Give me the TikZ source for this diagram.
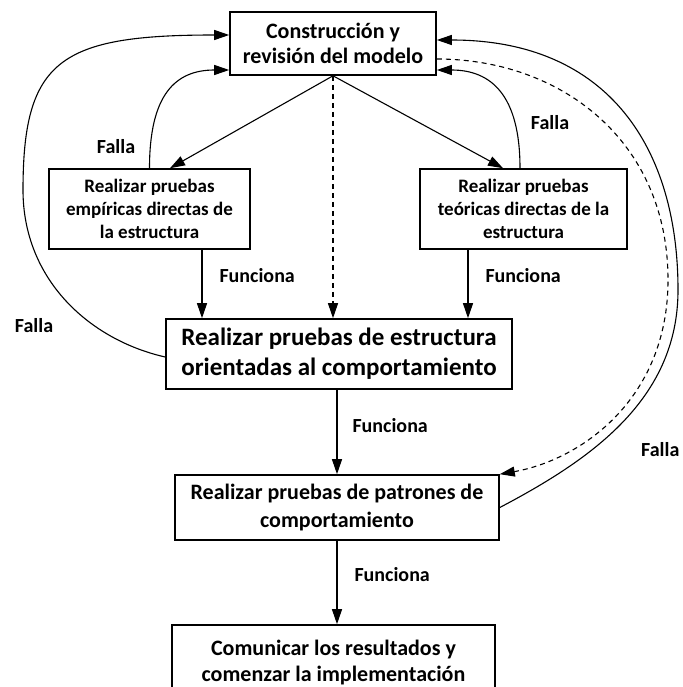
\documentclass[tikz,border=0pt]{standalone}
\usepackage{fontspec}
\setmainfont{Carlito}
\usetikzlibrary{arrows.meta}

\begin{document}
\begin{tikzpicture}[x=1pt, y=-1pt,
  caja/.style={draw, line width=1.6pt, align=center, inner sep=0pt},
  etiq/.style={font=\bfseries\fontsize{20}{22}\selectfont, inner sep=0pt},
  flecha/.style={line width=1.1pt, -{Triangle[length=15pt,width=10pt]}},
  punteada/.style={flecha, dash pattern=on 5pt off 4pt}]
  \useasboundingbox (0,0) rectangle (682,687);

  % cajas del proceso
  \node (modelo) [caja, minimum width=206pt, minimum height=63pt, font=\bfseries\fontsize{22}{25}\selectfont] at (333,43.5) {Construcción y\\revisión del modelo};
  \node (empir) [caja, minimum width=201pt, minimum height=80pt, font=\bfseries\fontsize{19}{23}\selectfont] at (149.5,209) {Realizar pruebas\\empíricas directas de\\la estructura};
  \node (teor) [caja, minimum width=207pt, minimum height=80pt, font=\bfseries\fontsize{19}{23}\selectfont] at (523.5,209) {Realizar pruebas\\teóricas directas de la\\estructura};
  \node (comp) [caja, minimum width=346pt, minimum height=70pt, font=\bfseries\fontsize{25}{30}\selectfont] at (339,354) {Realizar pruebas de estructura\\orientadas al comportamiento};
  \node (patr) [caja, minimum width=324pt, minimum height=65pt, font=\bfseries\fontsize{22}{28}\selectfont] at (337,507.5) {Realizar pruebas de patrones de\\comportamiento};
  \node (comun) [caja, minimum width=323pt, minimum height=76pt, font=\bfseries\fontsize{22}{26}\selectfont] at (333.5,663) {Comunicar los resultados y\\comenzar la implementación};

  % flechas hacia abajo
  \draw[flecha] (modelo.south) -- ([xshift=20.5pt]empir.north);
  \draw[flecha] (modelo.south) -- ([xshift=-20.5pt]teor.north);
  \draw[punteada] (modelo.south) -- (modelo.south |- comp.north);
  \draw[flecha] ([xshift=52.5pt]empir.south) -- ([xshift=52.5pt]empir.south |- comp.north)
    node[etiq, pos=.37, right=17pt] {Funciona};
  \draw[flecha] ([xshift=-55.5pt]teor.south) -- ([xshift=-55.5pt]teor.south |- comp.north)
    node[etiq, pos=.37, right=17pt] {Funciona};
  \draw[flecha] (patr.north |- comp.south) -- (patr.north)
    node[etiq, pos=.42, right=15pt] {Funciona};
  \draw[flecha] (patr.south) -- (patr.south |- comun.north)
    node[etiq, pos=.41, right=17pt] {Funciona};

  % retornos por falla
  \draw[flecha] (empir.north) .. controls (149.5,95) and (175,70) .. ([yshift=-26.5pt]modelo.west);
  \draw[flecha] ([xshift=-3.5pt]teor.north) .. controls (520,95) and (491,70) .. ([yshift=-26.5pt]modelo.east);
  \draw[flecha] ([yshift=-3pt]comp.west) .. controls (90,340) and (23,280) .. (23,190)
    .. controls (23,60) and (60,35) .. ([yshift=8.5pt]modelo.west);
  \draw[flecha] (patr.east) .. controls (590,460) and (678,400) .. (678,290)
    .. controls (678,150) and (610,40) .. ([yshift=3.5pt]modelo.east);
  \draw[punteada] ([yshift=-15.5pt]modelo.east) .. controls (560,59) and (668,140) .. (668,280)
    .. controls (668,400) and (580,460) .. (patr.north east);

  \node (f1) [etiq] at (116,147) {Falla};
  \node (f2) [etiq] at (550,123) {Falla};
  \node (f3) [etiq] at (34,326) {Falla};
  \node (f4) [etiq, anchor=west] at (641,450) {Falla};
\end{tikzpicture}
\end{document}
